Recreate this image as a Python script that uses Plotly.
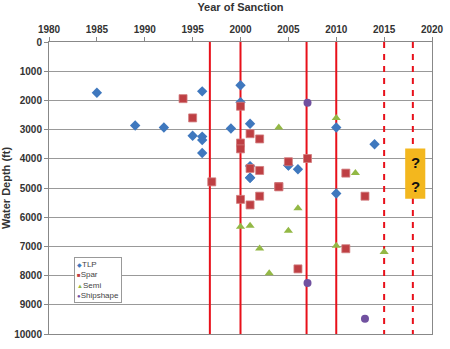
import plotly.graph_objects as go

# Data (year of sanction, water depth in ft)
tlp_year = [1985, 1996, 2000, 2000, 1989, 1992, 1999, 2001, 1995, 1996, 1996, 1996, 2001,
            2010, 2014, 2005, 2006, 2001, 2001, 2005, 2010]
tlp_depth = [1740, 1690, 1480, 2060, 2860, 2930, 2960, 2800, 3210, 3240, 3360, 3800, 4650,
             2930, 3500, 4230, 4360, 4250, 4650, 4220, 5190]

spar_year = [1994, 2000, 1995, 2001, 2002, 2000, 2000, 2001, 2002, 1997,
             2007, 2005, 2011, 2004, 2000, 2001, 2002, 2013, 2011, 2006, 2004]
spar_depth = [1940, 2200, 2600, 3140, 3320, 3460, 3660, 4330, 4400, 4790,
              3990, 4100, 4490, 4950, 5390, 5580, 5280, 5280, 7080, 7770, 4960]

semi_year = [2004, 2010, 2012, 2006, 2000, 2001, 2005, 2002, 2010, 2015, 2003]
semi_depth = [2930, 2600, 4490, 5690, 6330, 6290, 6460, 7070, 6980, 7190, 7920]

ship_year = [2007, 2007, 2013]
ship_depth = [2080, 8250, 9480]

event_years_solid = [1996.8, 2000, 2006.9, 2010]
event_years_dashed = [2015, 2018]

x_ticks = [1980, 1985, 1990, 1995, 2000, 2005, 2010, 2015, 2020]
y_ticks = [0, 1000, 2000, 3000, 4000, 5000, 6000, 7000, 8000, 9000, 10000]

qbox_x = [2017.2, 2019.3]
qbox_y = [3650, 5370]

series_names = ["TLP", "Spar", "Semi", "Shipshape"]
series_colors = ["#3F78BE", "#BE3F43", "#93B845", "#7151A0"]
legend_glyphs = ["◆", "■", "▲", "●"]

FONT = "Liberation Sans, Arial, sans-serif"

fig = go.Figure()
fig.add_trace(go.Scatter(x=tlp_year, y=tlp_depth, mode="markers", name=series_names[0],
                         marker=dict(symbol="diamond", size=8, color=series_colors[0])))
fig.add_trace(go.Scatter(x=spar_year, y=spar_depth, mode="markers", name=series_names[1],
                         marker=dict(symbol="square", size=8, color=series_colors[1],
                                     line=dict(color="#D27C7E", width=0.8))))
fig.add_trace(go.Scatter(x=semi_year, y=semi_depth, mode="markers", name=series_names[2],
                         marker=dict(symbol="triangle-up", size=8, color=series_colors[2])))
fig.add_trace(go.Scatter(x=ship_year, y=ship_depth, mode="markers", name=series_names[3],
                         marker=dict(symbol="circle", size=8, color=series_colors[3])))

shapes = []
for yr in event_years_solid:
    shapes.append(dict(type="line", xref="x", yref="y", x0=yr, x1=yr, y0=0, y1=10000,
                       line=dict(color="#E8101A", width=2), layer="between"))
for yr in event_years_dashed:
    shapes.append(dict(type="line", xref="x", yref="y", x0=yr, x1=yr, y0=0, y1=10000,
                       line=dict(color="#E8101A", width=2, dash="6px,6px"), layer="between"))
shapes.append(dict(type="rect", xref="x", yref="y", x0=qbox_x[0], x1=qbox_x[1],
                   y0=qbox_y[0], y1=qbox_y[1], fillcolor="#F3B71E", line=dict(width=0),
                   layer="above"))
fig.update_layout(shapes=shapes)

fig.add_annotation(x=sum(qbox_x) / 2, y=(qbox_y[0] * 0.72 + qbox_y[1] * 0.28), xref="x", yref="y",
                   text="<b>?</b>", showarrow=False, font=dict(family=FONT, size=15, color="#111"))
fig.add_annotation(x=sum(qbox_x) / 2, y=(qbox_y[0] * 0.25 + qbox_y[1] * 0.75), xref="x", yref="y",
                   text="<b>?</b>", showarrow=False, font=dict(family=FONT, size=15, color="#111"))

# Compact legend box (as in the original Excel-style legend)
legend_text = "<br>".join(
    f"<span style='color:{c};font-size:6px'>{g}</span>{n}"
    for n, c, g in zip(series_names, series_colors, legend_glyphs)
)
fig.add_annotation(x=0.064, y=0.262, xref="paper", yref="paper", xanchor="left", yanchor="top",
                   text=legend_text, showarrow=False, align="left",
                   font=dict(family=FONT, size=8, color="#444"),
                   bgcolor="white", bordercolor="#999", borderwidth=1, borderpad=2)

fig.update_layout(
    width=450, height=349,
    margin=dict(l=49, r=18, t=42, b=15),
    paper_bgcolor="white", plot_bgcolor="white",
    font=dict(family=FONT, size=10, color="#333"),
    showlegend=False,
    xaxis=dict(side="top", range=[1980, 2020], tickvals=x_ticks, automargin=False,
               ticktext=[f"<b>{t}</b>" for t in x_ticks],
               showgrid=False, zeroline=False, showline=True, linecolor="#888",
               linewidth=1, mirror=True, ticks="outside", ticklen=4, tickcolor="#888",
               tickfont=dict(size=10, color="#333"),
               title=dict(text="<b>Year of Sanction</b>", font=dict(size=11, color="#333"),
                          standoff=10)),
    yaxis=dict(range=[10000, 0], tickvals=y_ticks, automargin=False,
               ticktext=[f"<b>{t}</b>" for t in y_ticks],
               showgrid=True, gridcolor="#999", gridwidth=1, zeroline=False,
               showline=True, linecolor="#888", linewidth=1, mirror=True,
               ticks="outside", ticklen=4, tickcolor="#888",
               tickfont=dict(size=10, color="#333"),
               title=dict(text="<b>Water Depth (ft)</b>", font=dict(size=11, color="#333"),
                          standoff=8)),
)

fig.write_html("out.html")
